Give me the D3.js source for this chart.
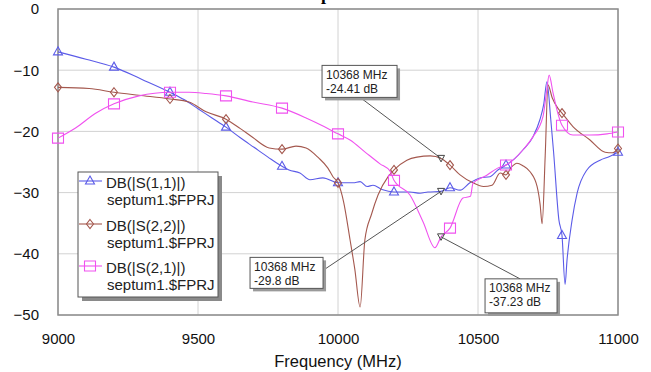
<!DOCTYPE html>
<html>
<head>
<meta charset="utf-8">
<script src="https://cdn.jsdelivr.net/npm/d3@7"></script>
<style>
  body { margin: 0; background: #fff; }
  svg { display: block; }
  text { font-family: Arial, "Liberation Sans", sans-serif; }
</style>
</head>
<body>
<div id="chart"></div>
<script>
// S11 (blue, triangles)
const s11Freq = [9000, 9100, 9200, 9300, 9400, 9450, 9500, 9550, 9600, 9650, 9700, 9750, 9800, 9825, 9864, 9900, 9946, 10000, 10054, 10079, 10104, 10125, 10157, 10200, 10257, 10293, 10321, 10368, 10400, 10436, 10471, 10507, 10543, 10571, 10600, 10630, 10661, 10696, 10721, 10735, 10746, 10760, 10770, 10789, 10800, 10811, 10818, 10836, 10854, 10889, 10936, 10970, 11000];
const s11Db = [-7, -8.2, -9.5, -11.5, -13.6, -14.8, -16.3, -17.8, -19.3, -21, -22.6, -24.2, -25.7, -26.3, -26.8, -27.9, -27.6, -28.4, -28.4, -28.2, -29, -28.8, -29.5, -29.9, -29.9, -30.1, -29.9, -29.8, -29.2, -29.6, -28.4, -27.6, -27.4, -26.3, -25.5, -24.5, -23, -20.9, -18.1, -15.5, -11.9, -18.1, -23.4, -34.5, -37, -45, -41, -34.5, -30.1, -26.3, -24.7, -24.1, -23.4];

// S22 (brown, diamonds)
const s22Freq = [9000, 9111, 9200, 9289, 9400, 9468, 9529, 9600, 9650, 9696, 9754, 9800, 9850, 9886, 9930, 9964, 9982, 10000, 10020, 10043, 10060, 10079, 10096, 10120, 10143, 10179, 10200, 10246, 10282, 10330, 10368, 10400, 10436, 10482, 10520, 10550, 10579, 10600, 10620, 10639, 10660, 10686, 10711, 10722, 10729, 10740, 10750, 10765, 10785, 10800, 10839, 10900, 10954, 10980, 11000];
const s22Db = [-12.8, -13, -13.6, -14.1, -14.7, -15.2, -16.8, -18, -19.5, -21, -22.7, -22.9, -22.4, -22.7, -24.3, -26, -27.4, -28.4, -31.5, -37.7, -42.5, -48.7, -37.7, -33.5, -30.4, -27.4, -26.3, -24.7, -24.2, -24, -24.41, -25.5, -27.1, -28.4, -29, -28.8, -26.8, -27.1, -25.8, -25.2, -25.6, -26.6, -29, -32, -35.1, -24, -12.4, -14.5, -16.2, -17, -19.2, -21.4, -23.4, -23.5, -22.8];

// S21 (magenta, squares)
const s21Freq = [9000, 9064, 9136, 9200, 9289, 9400, 9468, 9529, 9600, 9696, 9800, 9886, 9950, 10000, 10043, 10100, 10150, 10186, 10200, 10257, 10304, 10346, 10368, 10400, 10446, 10473, 10482, 10530, 10570, 10600, 10661, 10696, 10732, 10745, 10754, 10768, 10785, 10800, 10839, 10900, 10961, 11000];
const s21Db = [-21.1, -19.4, -17, -15.5, -14.2, -13.6, -13.6, -13.8, -14.2, -15.2, -16.2, -17.8, -19.2, -20.4, -21.4, -23.5, -25.3, -26.5, -28, -30.4, -34.8, -39, -37.23, -35.8, -30.9, -30.6, -28.5, -27.2, -26, -25.5, -23, -20.9, -17.6, -13.5, -10.8, -13.7, -17, -19, -20.6, -20.6, -20.4, -20.1];

const seriesNames = ["DB(|S(1,1)|)", "DB(|S(2,2)|)", "DB(|S(2,1)|)"];
const projectName = "septum1.$FPRJ";

const xTicks = [9000, 9500, 10000, 10500, 11000];
const yTicks = [0, -10, -20, -30, -40, -50];

// marker readouts at 10368 MHz
const readFreq = 10368;
const readDb = [-24.41, -29.8, -37.23];
const readLabels = ["-24.41 dB", "-29.8 dB", "-37.23 dB"];

const W = 651, H = 372;
const margin = { left: 58, right: 33, top: 9, bottom: 57 };

const svg = d3.select("#chart").append("svg")
  .attr("width", W).attr("height", H);

const x = d3.scaleLinear().domain([9000, 11000]).range([margin.left, W - margin.right]);
const y = d3.scaleLinear().domain([0, -50]).range([margin.top, H - margin.bottom]);

// title sits above the visible area, only its descender shows
svg.append("text")
  .attr("x", 305).attr("y", 0)
  .style("font-family", "'Liberation Serif', 'Times New Roman', serif")
  .style("font-weight", "bold").style("font-size", "18px")
  .text("S-parameters");

// grid
const grid = svg.append("g").attr("stroke", "#d2d2d2").attr("stroke-width", 1);
grid.selectAll(".gx").data(xTicks).join("line")
  .attr("x1", d => x(d)).attr("x2", d => x(d))
  .attr("y1", y(0)).attr("y2", y(-50));
grid.selectAll(".gy").data(yTicks).join("line")
  .attr("x1", x(9000)).attr("x2", x(11000))
  .attr("y1", d => y(d)).attr("y2", d => y(d));

// frame
svg.append("rect")
  .attr("x", x(9000)).attr("y", y(0))
  .attr("width", x(11000) - x(9000)).attr("height", y(-50) - y(0))
  .attr("fill", "none").attr("stroke", "#8c8c8c").attr("stroke-width", 1.5);

// axes
const xAxis = svg.append("g")
  .attr("transform", "translate(0," + y(-50) + ")")
  .call(d3.axisBottom(x).tickValues(xTicks).tickFormat(d3.format("d")).tickSize(0).tickPadding(18));
const yAxis = svg.append("g")
  .attr("transform", "translate(" + x(9000) + ",0)")
  .call(d3.axisLeft(y).tickValues(yTicks).tickFormat(d3.format("d")).tickSize(0).tickPadding(19));
[xAxis, yAxis].forEach(a => {
  a.select(".domain").remove();
  a.selectAll("text").style("font-size", "15px").attr("fill", "#111")
    .style("font-family", "Arial, 'Liberation Sans', sans-serif");
});

svg.append("text")
  .attr("x", (x(9000) + x(11000)) / 2).attr("y", 367)
  .attr("text-anchor", "middle")
  .style("font-size", "16.5px").attr("fill", "#111")
  .text("Frequency (MHz)");

// series
const shapes = {
  tri: "M0,-5L4.5,3L-4.5,3Z",
  dia: "M0,-4.5L3.5,0L0,4.5L-3.5,0Z",
  sq: "M-5.5,-5H5.5V5H-5.5Z"
};
const series = [
  { freq: s11Freq, db: s11Db, color: "#5b5be8", shape: shapes.tri },
  { freq: s22Freq, db: s22Db, color: "#a4584e", shape: shapes.dia },
  { freq: s21Freq, db: s21Db, color: "#f052ef", shape: shapes.sq }
];

const line = d3.line()
  .x(d => x(d[0])).y(d => y(d[1]))
  .curve(d3.curveMonotoneX);

series.forEach(s => {
  const pts = s.freq.map((f, i) => [f, s.db[i]]);
  svg.append("path")
    .datum(pts)
    .attr("fill", "none").attr("stroke", s.color).attr("stroke-width", 1.1)
    .attr("d", line);
  svg.append("g").selectAll("path")
    .data(pts.filter(p => p[0] % 200 === 0))
    .join("path")
    .attr("transform", p => "translate(" + x(p[0]) + "," + y(p[1]) + ")")
    .attr("d", s.shape)
    .attr("fill", "none").attr("stroke", s.color).attr("stroke-width", 1.1);
});

// readout boxes
const boxes = [
  { dx: -119, dy: -93, w: 75, h: 32, ax: 38, ay: 32 },
  { dx: -191, dy: 66, w: 73, h: 31, ax: 73, ay: 13 },
  { dx: 44, dy: 42, w: 72, h: 34, ax: 35, ay: 0 }
];
readDb.forEach((v, i) => {
  const px = x(readFreq), py = y(v), b = boxes[i];
  const bx = px + b.dx, by = py + b.dy;
  const g = svg.append("g");
  g.append("line")
    .attr("x1", bx + b.ax).attr("y1", by + b.ay).attr("x2", px).attr("y2", py)
    .attr("stroke", "#555").attr("stroke-width", 1);
  g.append("rect").attr("x", bx + 3).attr("y", by + 3).attr("width", b.w).attr("height", b.h)
    .attr("fill", "#9a9a9a");
  g.append("rect").attr("x", bx).attr("y", by).attr("width", b.w).attr("height", b.h)
    .attr("fill", "#fff").attr("stroke", "#555").attr("stroke-width", 1);
  g.append("text").attr("x", bx + 4).attr("y", by + 13.5)
    .style("font-size", "12px").attr("fill", "#222").text(readFreq + " MHz");
  g.append("text").attr("x", bx + 4).attr("y", by + 27.5)
    .style("font-size", "12px").attr("fill", "#222").text(readLabels[i]);
  g.append("path")
    .attr("transform", "translate(" + px + "," + py + ")")
    .attr("d", "M-3.5,-3L3.5,-3L0,3.5Z")
    .attr("fill", "none").attr("stroke", "#444").attr("stroke-width", 1);
});

// legend
const lg = svg.append("g").attr("transform", "translate(78,172)");
lg.append("rect").attr("x", 4).attr("y", 4).attr("width", 140).attr("height", 125).attr("fill", "#8a8a8a");
lg.append("rect").attr("width", 140).attr("height", 125)
  .attr("fill", "#fff").attr("stroke", "#555").attr("stroke-width", 1);
const legendBase = [16, 59, 101];
series.forEach((s, i) => {
  const by = legendBase[i];
  lg.append("line").attr("x1", 1).attr("x2", 24).attr("y1", by - 7).attr("y2", by - 7)
    .attr("stroke", s.color).attr("stroke-width", 1.1);
  lg.append("path").attr("transform", "translate(12," + (by - 7) + ")")
    .attr("d", s.shape).attr("fill", "none").attr("stroke", s.color).attr("stroke-width", 1.1);
  lg.append("text").attr("x", 28).attr("y", by)
    .style("font-size", "15px").attr("fill", "#222").text(seriesNames[i]);
  lg.append("text").attr("x", 29).attr("y", by + 17)
    .style("font-size", "15px").attr("fill", "#222").text(projectName);
});
</script>
</body>
</html>
